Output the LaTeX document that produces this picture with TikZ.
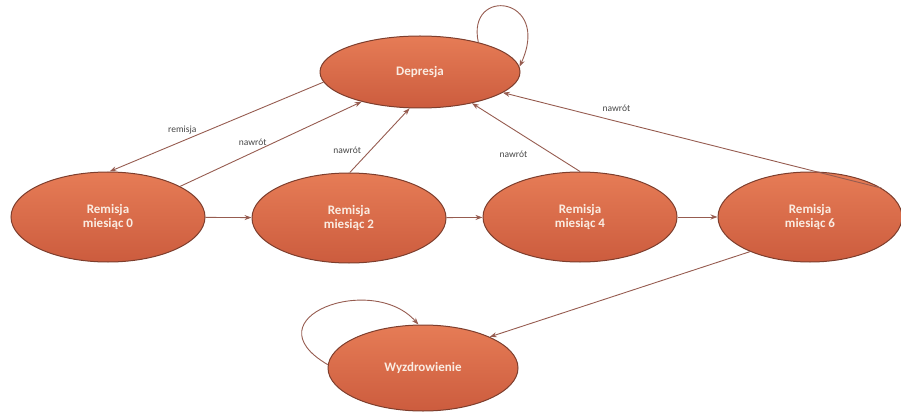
\documentclass[tikz,border=0pt]{standalone}
\usepackage{fontspec}
\setmainfont{Carlito}
\usetikzlibrary{arrows.meta,shapes.geometric}
\definecolor{ellA}{RGB}{230,124,86}
\definecolor{ellB}{RGB}{204,92,62}
\definecolor{ellD}{RGB}{125,62,45}
\definecolor{edgeC}{RGB}{150,92,80}
\definecolor{txtW}{RGB}{250,236,226}
\definecolor{lblC}{RGB}{70,70,70}
\tikzset{
  state/.style={ellipse, draw=ellD, line width=1pt, top color=ellA, bottom color=ellB,
    minimum width=194pt, minimum height=90pt, inner sep=0pt, align=center,
    text=txtW, font=\fontsize{13}{14}\selectfont\bfseries},
  edge/.style={draw=edgeC, line width=0.9pt, -{Stealth[length=7pt,width=5pt]}},
  lbl/.style={font=\fontsize{9.5}{11}\selectfont, text=lblC}
}
\begin{document}
\begin{tikzpicture}[x=1pt,y=-1pt]
\useasboundingbox (0,0) rectangle (901,414);
\node[state, minimum width=200pt, minimum height=72pt] (dep) at (420,72) {Depresja};
\node[state] (r0) at (108,217) {Remisja\\miesiąc 0};
\node[state] (r2) at (349,218) {Remisja\\miesiąc 2};
\node[state] (r4) at (580,217) {Remisja\\miesiąc 4};
\node[state, minimum width=184pt] (r6) at (810,217) {Remisja\\miesiąc 6};
\node[state, minimum width=190pt, minimum height=86pt] (wyz) at (423,368) {Wyzdrowienie};

% self loops
\draw[edge] (dep.27) .. controls (466,-14) and (552,-4) .. (dep.3);
\draw[edge] (wyz.178) .. controls (248,318) and (372,272) .. (wyz.96);

% chain
\draw[edge] (r0) -- (r2);
\draw[edge] (r2) -- (r4);
\draw[edge] (r4) -- (r6);

% remission / relapse
\draw[edge] (dep.186) -- node[lbl, pos=0.66, above=3pt] {remisja} (r0.88);
\draw[edge] (r0.23) -- node[lbl, pos=0.4, above=3pt] {nawrót} (dep.207);
\draw[edge] (r2.89) -- node[lbl, pos=0.35, left=6pt] {nawrót} (dep.254);
\draw[edge] (r4.90) -- node[lbl, pos=0.25, left=22pt] {nawrót} (dep.-31);
\draw[edge] (r6.22) -- node[lbl, pos=0.7, above=6pt] {nawrót} (dep.-14);
\draw[edge] (r6.210) -- (wyz.25);
\end{tikzpicture}
\end{document}
